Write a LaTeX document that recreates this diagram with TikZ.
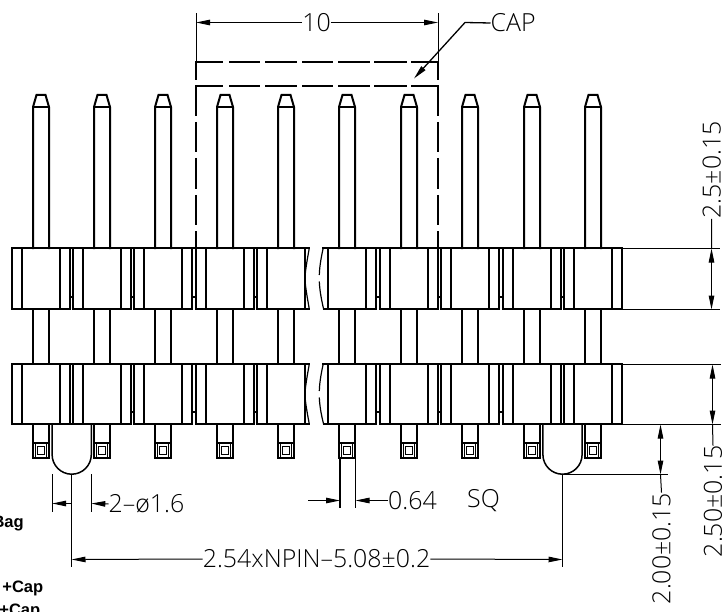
\documentclass[tikz,border=0pt]{standalone}
\usepackage{fontspec}
\usetikzlibrary{arrows.meta}
\newfontfamily\dimfont{Open Sans Light}
\newfontfamily\boldlabel{Liberation Sans Bold}
\tikzset{
  part/.style={line width=2bp,line cap=rect,line join=miter},
  dashpart/.style={line width=2bp,line cap=butt},
  fine/.style={line width=1bp},
  leader/.style={line width=1.3bp},
  dimarrow/.style={-{Stealth[length=14bp,width=5.5bp,inset=0bp]}},
  dimboth/.style={{Stealth[length=14bp,width=5.5bp,inset=0bp]}-{Stealth[length=14bp,width=5.5bp,inset=0bp]}},
  dimtext/.style={inner sep=0pt,font=\dimfont\fontsize{25}{25}\selectfont},
  croptext/.style={inner sep=0pt,anchor=base east,font=\boldlabel\fontsize{16.6}{16.6}\selectfont},
}
\newcommand{\housingrow}[2]{%
  \foreach \i in {0,...,9}{%
    \pgfmathsetmacro{\c}{round(40.7+61.35*\i)}%
    \draw[part] (\c-19,#1) -- (\c-19,#2);
    \draw[part] (\c+19,#1) -- (\c+19,#2);
    \ifnum\i=5 \else \draw[part] (\c-29,#1) -- (\c-29,#2); \fi
    \ifnum\i=4 \else \draw[part] (\c+29,#1) -- (\c+29,#2); \fi
    \ifnum\i=4 \draw[part] (\c-29,#2) -- (309,#2);
    \else\ifnum\i=5 \draw[part] (324,#2) -- (\c+29,#2);
    \else \draw[part] (\c-29,#2) -- (\c+29,#2); \fi\fi
  }
  \draw[part] (12,#1) -- (309,#1);
  \draw[part] (323,#1) -- (622,#1);
  \draw[line width=1.2bp] (309.3,#1) .. controls (306.6,#1+15) and (305,#1+25) .. (305,#1+30.5)
     .. controls (305,#1+36) and (306.6,#1+46) .. (309.3,#2);
  \draw[line width=1.2bp] (323.2,#1) .. controls (320.6,#1+12) and (319.5,#1+20) .. (319.3,#1+27);
  \draw[line width=1.2bp] (319.3,#1+33.5) .. controls (319.6,#1+41) and (321,#1+50) .. (323.6,#2);
}
\begin{document}
\begin{tikzpicture}[x=1bp,y=-1bp]
\useasboundingbox (0,0) rectangle (726,612);

% pins
\foreach \i in {0,...,9}{%
  \pgfmathsetmacro{\c}{round(40.7+61.35*\i)}%
  \draw[part] (\c-8,248) -- (\c-8,107) -- (\c-4.5,95) -- (\c+4.5,95) -- (\c+8,107) -- (\c+8,248);
  \draw[part] (\c-8,107) -- (\c+8,107);
  \draw[part] (\c-8,309) -- (\c-8,364);
  \draw[part] (\c+8,309) -- (\c+8,364);
  \draw[part] (\c-8,424) -- (\c-8,458) -- (\c+8,458) -- (\c+8,424);
  \draw[part] (\c-8,443) -- (\c+8,443);
  \draw[line width=1.2bp] (\c-5.5,443) -- (\c-5.5,458);
  \draw[line width=1.2bp] (\c+5.5,443) -- (\c+5.5,458);
  \draw[line width=1.2bp] (\c-3.5,446.5) rectangle (\c+3.5,454.5);
}
% housings
\housingrow{248}{309}
\housingrow{364}{424}

% gaps between neighbouring blocks
\foreach \i in {0,1,2,3,5,6,7,8}{%
  \pgfmathsetmacro{\a}{round(40.7+61.35*\i)+29}%
  \pgfmathsetmacro{\b}{round(40.7+61.35*(\i+1))-29}%
  \draw[part] (\a,297) -- (\b,297);
}
\foreach \i in {1,2,3,5,6,7}{%
  \pgfmathsetmacro{\a}{round(40.7+61.35*\i)+29}%
  \pgfmathsetmacro{\b}{round(40.7+61.35*(\i+1))-29}%
  \draw[part] (\a,412) -- (\b,412);
}
\foreach \i in {0,8}{%
  \pgfmathsetmacro{\a}{round(40.7+61.35*\i)+29}%
  \pgfmathsetmacro{\b}{round(40.7+61.35*(\i+1))-29}%
  \draw[part] (\a,424) -- (\b,424);
}

% locating pegs
\foreach \m in {71.7,562.5}{%
  \draw[line width=1.5bp] (\m-19.6,424.5) -- (\m-19.6,454.6)
    .. controls (\m-19.6,465.4) and (\m-10.8,474.2) .. (\m,474.2)
    .. controls (\m+10.8,474.2) and (\m+19.6,465.4) .. (\m+19.6,454.6) -- (\m+19.6,424.5);
}

% dashed cap outline
\foreach \y in {62,86}{%
  \foreach \a/\b in {195/223,229/260,265/297,302/333,338/370,374/407,411/439}{%
    \draw[dashpart] (\a,\y) -- (\b,\y);
  }
}
\foreach \x in {196,438}{%
  \draw[dashpart] (\x,62) -- (\x,80);
  \foreach \a/\b in {86/116,122/152,158/189,195/225,231/248}{%
    \draw[dashpart] (\x,\a) -- (\x,\b);
  }
}

% dimension: 10
\node[dimtext] (ten) at (316.5,22.5) {10};
\coordinate (tenL) at (196,22.5);
\coordinate (tenR) at (438,22.5);
\draw[fine] (196,13.5) -- (196,61);
\draw[fine] (438,13.5) -- (438,61);
\draw[fine,dimarrow] (ten.west) -- (tenL);
\draw[fine,dimarrow] (ten.east) -- (tenR);

% CAP leader
\node[dimtext,anchor=west] (cap) at (490.5,23) {CAP};
\coordinate (capknee) at (465,22.5);
\coordinate (captip) at (414,78.5);
\draw[leader,dimarrow] (cap.west) -- (capknee) -- (captip);

% dimension: 2-phi1.6
\node[dimtext,anchor=west] (phi) at (108.5,504) {2–ø1.6};
\coordinate (phiL) at (52.1,503.5);
\coordinate (phiR) at (91.3,503.5);
\coordinate (phiM) at (71.5,503.5);
\draw[fine] (52.1,474) -- (52.1,511.5);
\draw[fine] (91.3,474) -- (91.3,511.5);
\draw[fine] (71.5,474.2) -- (71.5,566.7);
\draw[fine,dimarrow] (phiM) -- (phiL);
\draw[fine,dimarrow] (phi.west) -- (phiR);

% dimension: pitch
\node[dimtext] (pitch) at (316.5,559) {2.54xNPIN–5.08±0.2};
\coordinate (pitchL) at (71.5,559.5);
\coordinate (pitchR) at (562.5,559.5);
\draw[fine] (562.5,474.2) -- (562.5,566.7);
\draw[fine,dimarrow] (pitch.west) -- (pitchL);
\draw[fine,dimarrow] (pitch.east) -- (pitchR);

% dimension: 0.64 SQ
\node[dimtext,anchor=west] (sq) at (388,500.5) {0.64};
\node[dimtext,anchor=west] (sqb) at (467,500.5) {SQ};
\coordinate (sqL) at (340,500.5);
\coordinate (sqR) at (355.5,500.5);
\coordinate (sqT) at (308,500.5);
\draw[line width=1.4bp] (340,458) -- (340,508);
\draw[fine] (355.5,458) -- (355.5,508);
\draw[fine,dimarrow] (sqT) -- (sqL);
\draw[fine,dimarrow] (sq.west) -- (sqR);

% right dimensions
\draw[fine] (623,248.5) -- (720,248.5);
\draw[fine] (623,309.5) -- (720,309.5);
\draw[fine] (623,364.5) -- (721,364.5);
\draw[fine] (623,424.5) -- (721,424.5);
\draw[fine] (562.5,474.5) -- (668,474.5);

\node[dimtext,rotate=90] (d25) at (711.7,170) {2.5±0.15};
\coordinate (d25a) at (711.5,248.5);
\coordinate (d25b) at (711.5,309.5);
\draw[fine] (d25.west) -- (d25a);
\draw[fine,dimboth] (d25a) -- (d25b);

\node[dimtext,rotate=90] (d250) at (713,501.5) {2.50±0.15};
\coordinate (d250a) at (712.5,364.5);
\coordinate (d250b) at (712.5,424.5);
\draw[fine] (d250.east) -- (d250b);
\draw[fine,dimboth] (d250a) -- (d250b);

\node[dimtext,rotate=90] (d200) at (661.5,548.5) {2.00±0.15};
\coordinate (d200a) at (660.5,424.5);
\coordinate (d200b) at (660.5,474.5);
\draw[fine] (d200.east) -- (d200b);
\draw[fine,dimboth] (d200a) -- (d200b);

% cropped labels at the left edge
\node[croptext] (bag) at (24,527) {Bag};
\node[croptext] (cap1) at (43.5,592) {+Cap};
\node[croptext] (cap2) at (40.5,615.5) {+Cap};
\end{tikzpicture}
\end{document}
